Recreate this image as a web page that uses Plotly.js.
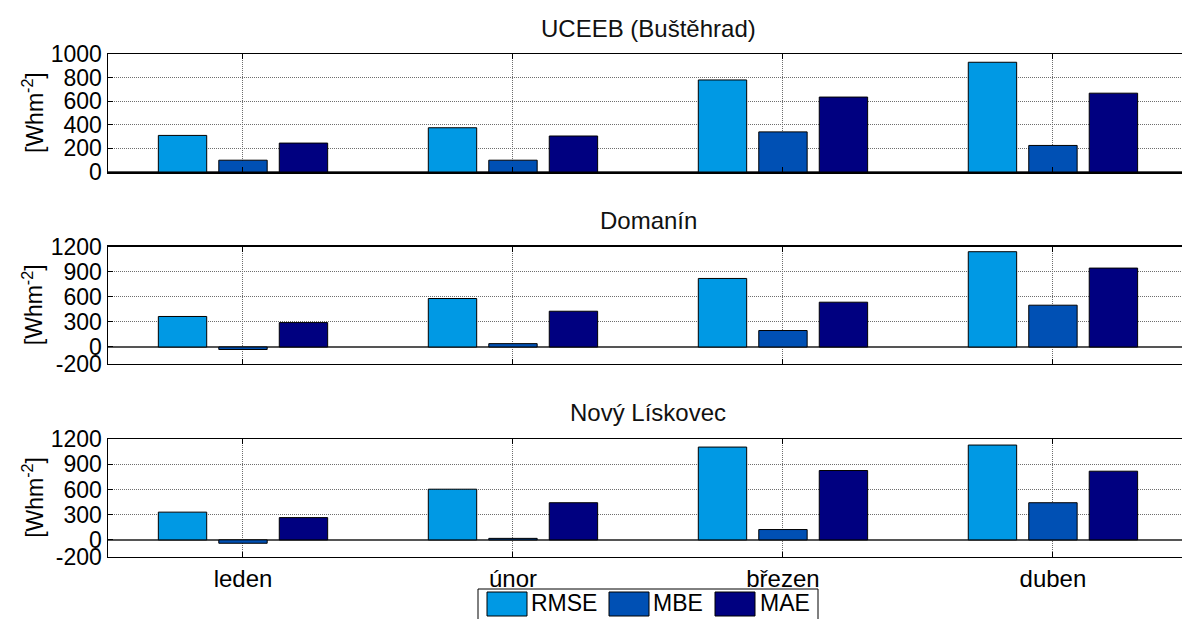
<!DOCTYPE html>
<html>
<head>
<meta charset="utf-8">
<script src="https://cdn.plot.ly/plotly-3.0.1.min.js"></script>
<style>
  html, body { margin: 0; padding: 0; background: #fff; }
  #chart { width: 1182px; height: 619px; }
</style>
</head>
<body>
<div id="chart"></div>
<script>
// Months on the category axis
const categories = ['leden', 'únor', 'březen', 'duben'];
const seriesNames = ['RMSE', 'MBE', 'MAE'];
const stationTitles = ['UCEEB (Buštěhrad)', 'Domanín', 'Nový Lískovec'];
const unitLabel = '[Whm<sup>-2</sup>]';

// UCEEB (Buštěhrad)
const uceebRMSE = [310, 375, 780, 930];
const uceebMBE  = [100, 100, 340, 225];
const uceebMAE  = [245, 305, 635, 668];

// Domanín
const domaninRMSE = [365, 580, 820, 1140];
const domaninMBE  = [-30, 40, 197, 500];
const domaninMAE  = [292, 428, 536, 944];

// Nový Lískovec
const liskovecRMSE = [330, 603, 1104, 1128];
const liskovecMBE  = [-40, 18, 123, 442];
const liskovecMAE  = [265, 442, 825, 817];

// y tick values per panel
const ticksTop = [0, 200, 400, 600, 800, 1000];
const ticksLower = [-200, 0, 300, 600, 900, 1200];

const colors = ['#0099e4', '#0050b4', '#000080'];
const FONT = 'Liberation Sans, Arial, sans-serif';

const stations = [
  [uceebRMSE, uceebMBE, uceebMAE],
  [domaninRMSE, domaninMBE, domaninMAE],
  [liskovecRMSE, liskovecMBE, liskovecMAE]
];

const traces = [];
stations.forEach((series, p) => {
  const ax = p === 0 ? '' : String(p + 1);
  series.forEach((vals, s) => {
    traces.push({
      type: 'bar',
      x: categories,
      y: vals,
      name: seriesNames[s],
      xaxis: 'x' + ax,
      yaxis: 'y' + ax,
      marker: { color: colors[s], line: { color: '#000', width: 1 } },
      showlegend: false,
      hoverinfo: 'x+y+name'
    });
  });
});

// pixel geometry of the three panels (top, bottom) in a 619 px tall figure
const H = 619, W = 1182, L = 108;
const panels = [[54, 172], [246.7, 363.7], [439, 556.7]];
const dom = panels.map(([t, b]) => [1 - b / H, 1 - t / H]);
const px = x => (x - L) / (W - L);
const py = y => 1 - y / H;

const GRID = '#6e6e6e';
const GRIDDASH = '1px,1px';

function xAxis(i, showLabels) {
  return {
    domain: [0, 1],
    anchor: i === 0 ? 'y' : 'y' + (i + 1),
    type: 'category',
    range: [-0.5, 3.478],
    showgrid: true,
    gridcolor: GRID,
    griddash: GRIDDASH,
    gridwidth: 1,
    showline: true,
    linecolor: '#000',
    linewidth: 1.5,
    mirror: 'ticks',
    ticks: 'inside',
    ticklen: 5,
    tickcolor: '#000',
    tickwidth: 1,
    showticklabels: showLabels,
    tickfont: { family: FONT, size: 24, color: '#000' },
    fixedrange: true
  };
}

function yAxis(i, range, tickvals) {
  return {
    domain: dom[i],
    anchor: i === 0 ? 'x' : 'x' + (i + 1),
    range: range,
    tickvals: tickvals,
    ticktext: tickvals.map(String),
    showgrid: true,
    gridcolor: GRID,
    griddash: GRIDDASH,
    gridwidth: 1,
    zeroline: true,
    zerolinecolor: '#555',
    zerolinewidth: 1.5,
    showline: true,
    linecolor: '#000',
    linewidth: 1.5,
    ticks: 'inside',
    ticklen: 5,
    tickcolor: '#000',
    tickfont: { family: FONT, size: 23, color: '#000' },
    fixedrange: true
  };
}

const titleY = [28, 220, 413];
const annotations = [];
stationTitles.forEach((t, i) => {
  annotations.push({
    text: t, xref: 'paper', yref: 'paper',
    x: px(648), y: py(titleY[i]), xanchor: 'center', yanchor: 'middle',
    showarrow: false, font: { family: FONT, size: 24, color: '#111' }
  });
  const mid = (panels[i][0] + panels[i][1]) / 2;
  annotations.push({
    text: unitLabel, xref: 'paper', yref: 'paper',
    x: px(33), y: py(mid), xanchor: 'center', yanchor: 'middle',
    textangle: -90, showarrow: false,
    font: { family: FONT, size: 23, color: '#000' }
  });
});

// legend box below the lower panel
const shapes = [{
  type: 'rect', xref: 'paper', yref: 'paper',
  x0: px(478), x1: px(818), y0: py(625), y1: py(589),
  line: { color: '#000', width: 1 }, fillcolor: '#fff', layer: 'above'
}];
const swatchX = [487, 609, 715];
const labelX = [529, 651, 758];
seriesNames.forEach((n, s) => {
  shapes.push({
    type: 'rect', xref: 'paper', yref: 'paper',
    x0: px(swatchX[s]), x1: px(swatchX[s] + 40), y0: py(616), y1: py(592),
    line: { color: '#000', width: 1 }, fillcolor: colors[s], layer: 'above'
  });
  annotations.push({
    text: n, xref: 'paper', yref: 'paper',
    x: px(labelX[s]), y: py(603), xanchor: 'left', yanchor: 'middle',
    showarrow: false, font: { family: FONT, size: 23, color: '#000' }
  });
});

const layout = {
  width: W, height: H,
  margin: { l: L, r: 0, t: 0, b: 0 },
  paper_bgcolor: '#fff', plot_bgcolor: '#fff',
  barmode: 'group',
  bargap: 0.328,
  bargroupgap: 0.2,
  showlegend: false,
  xaxis: xAxis(0, false),
  xaxis2: xAxis(1, false),
  xaxis3: xAxis(2, true),
  yaxis: yAxis(0, [0, 1000], ticksTop),
  yaxis2: yAxis(1, [-200, 1200], ticksLower),
  yaxis3: yAxis(2, [-200, 1200], ticksLower),
  annotations: annotations,
  shapes: shapes
};

Plotly.newPlot('chart', traces, layout, { displayModeBar: false, staticPlot: true });
</script>
</body>
</html>
